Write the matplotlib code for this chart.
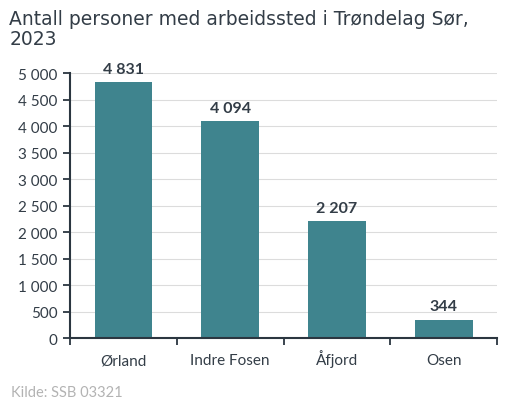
import matplotlib
matplotlib.use("Agg")
import matplotlib.pyplot as plt
import numpy as np

kommuner = ["Ørland", "Indre Fosen", "Åfjord", "Osen"]
antall = [4831, 4094, 2207, 344]
yticks = [0, 500, 1000, 1500, 2000, 2500, 3000, 3500, 4000, 4500, 5000]


def fmt(v):
    return f"{v:,}".replace(",", " ")


fig = plt.figure(figsize=(5.11, 4.14), dpi=100)
ax = fig.add_axes([0.137, 0.181, 0.836, 0.640])

x = np.arange(len(kommuner))
ax.bar(x, antall, width=0.54, color="#3f848e", zorder=2)

for xi, v in zip(x, antall):
    ax.text(xi, v + 120, fmt(v), ha="center", va="bottom", fontsize=11.5,
            fontweight="bold", color="#333d47", family="Lato")

ax.set_xlim(-0.5, len(kommuner) - 0.5)
ax.set_ylim(0, 5000)
ax.set_yticks(yticks)
ax.set_yticklabels([fmt(v) for v in yticks], fontsize=11, color="#333d47", family="Lato")
ax.yaxis.grid(True, color="#dcdcdc", linewidth=0.8, zorder=0)

ax.set_xticks(x)
ax.set_xticklabels(kommuner, fontsize=11, color="#333d47", family="Lato", va="baseline")
ax.tick_params(axis="x", length=0, pad=19)
ax.set_xticks(np.arange(-0.5, len(kommuner)), minor=True)
ax.tick_params(axis="x", which="minor", length=5, width=1.3, color="#2b3640", direction="out")
ax.tick_params(axis="y", length=5, width=1.3, color="#2b3640", direction="out", pad=4)

for s in ["top", "right"]:
    ax.spines[s].set_visible(False)
for s in ["left", "bottom"]:
    ax.spines[s].set_color("#2b3640")
    ax.spines[s].set_linewidth(1.5)

fig.text(0.018, 0.975, "Antall personer med arbeidssted i Trøndelag Sør,\n2023",
         ha="left", va="top", fontsize=13.5, color="#333d47", linespacing=1.05)
fig.text(0.022, 0.035, "Kilde: SSB 03321", ha="left", va="bottom", fontsize=10.5,
         color="#b3b3b3", family="Lato")

fig.savefig("out.png", dpi=100)
